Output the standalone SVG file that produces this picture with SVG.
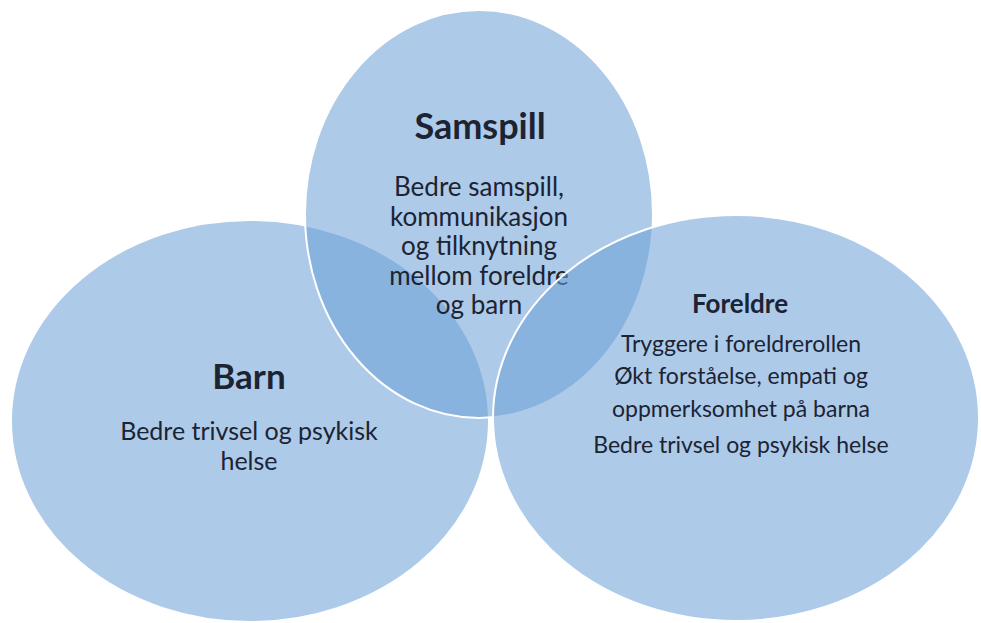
<svg xmlns="http://www.w3.org/2000/svg" width="981" height="623" viewBox="0 0 981 623">
<style>
.c{fill:#6da1d7;fill-opacity:0.56;stroke:#ffffff;stroke-width:2}
text{font-family:Lato,"Open Sans","Liberation Sans",sans-serif;fill:#1c2333;text-anchor:middle}
.t{font-weight:bold}
</style>
<rect width="981" height="623" fill="#ffffff"/>
<g id="barn">
<ellipse class="c" cx="250" cy="421" rx="239" ry="201"/>
<text class="t" x="249" y="389" font-size="35">Barn</text>
<text x="249" y="440" font-size="25">Bedre trivsel og psykisk</text>
<text x="249" y="470" font-size="25">helse</text>
</g>
<g id="samspill">
<ellipse class="c" cx="479" cy="214" rx="174" ry="204"/>
<text class="t" x="480" y="139" font-size="36">Samspill</text>
<text x="479" y="196" font-size="26">Bedre samspill,</text>
<text x="479" y="225.5" font-size="26">kommunikasjon</text>
<text x="479" y="255" font-size="26">og tilknytning</text>
<text x="479" y="284.5" font-size="26">mellom foreldre</text>
<text x="479" y="314" font-size="26">og barn</text>
</g>
<g id="foreldre">
<ellipse class="c" cx="736" cy="418" rx="243" ry="203"/>
<text class="t" x="740" y="313" font-size="26">Foreldre</text>
<text x="741" y="352" font-size="23">Tryggere i foreldrerollen</text>
<text x="741" y="384" font-size="23">Økt forståelse, empati og</text>
<text x="741" y="417" font-size="23">oppmerksomhet på barna</text>
<text x="741" y="453" font-size="23">Bedre trivsel og psykisk helse</text>
</g>
<g id="connectors"/>
</svg>
